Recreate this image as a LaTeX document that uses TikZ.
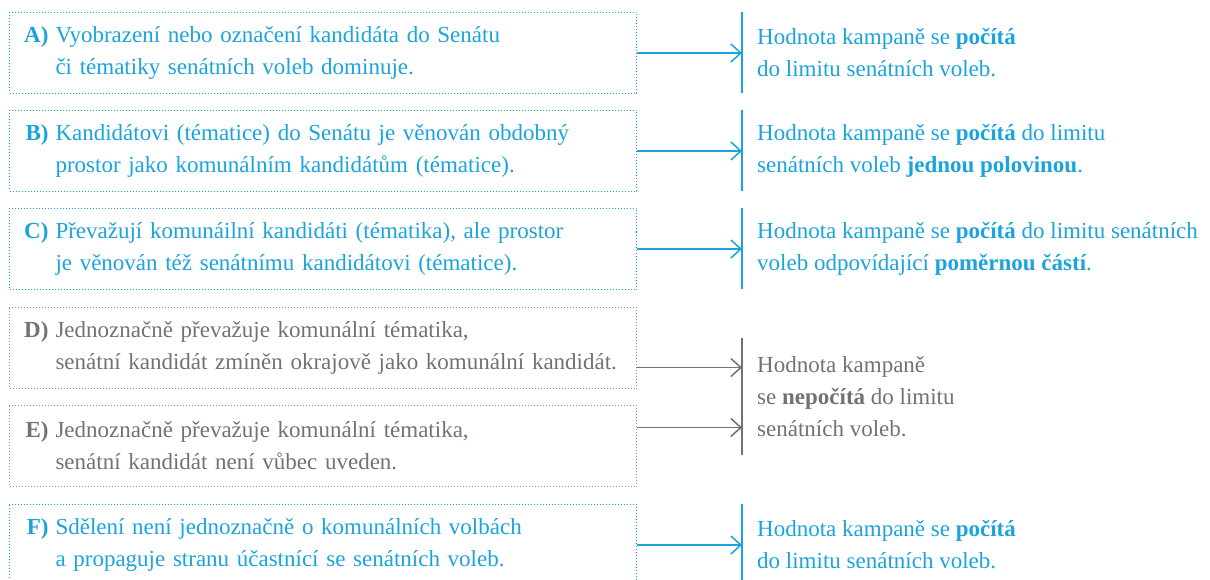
\documentclass[tikz,border=0pt]{standalone}
\usepackage{fontspec}
\setmainfont{Liberation Serif}
\usetikzlibrary{arrows.meta,positioning}

\definecolor{kblue}{HTML}{1BA3DC}
\definecolor{kgray}{HTML}{6E7377}
\definecolor{kdot}{HTML}{8C9093}

\begin{document}
\begin{tikzpicture}[
    x=1pt, y=-1pt,
    >={Straight Barb[length=10pt,width=18pt]},
    optbox/.style={draw=#1, text=#1, line width=1pt, dash pattern=on 1pt off 2pt,
        minimum width=627pt, minimum height=81pt, text width=535pt, inner xsep=46pt,
        align=left, anchor=north west, font=\fontsize{23}{32.3}\selectfont},
    result/.style={text=#1, inner xsep=15pt, anchor=west, align=left,
        font=\fontsize{23}{32.3}\selectfont},
    bar/.style={draw=#1, line width=2pt},
    arr/.style={->, draw=#1, line width=1.5pt}
]

    % --- 1. Okraje obrazku ---
    \useasboundingbox (0,0) rectangle (1210,580);
    \clip (0,0) rectangle (1210,580);

    % --- 2. Moznosti A) az F) (teckovane ramecky) ---
    \node[optbox=kblue] (boxA) at (9,12)
        {\llap{\textbf{A)}\hspace{7pt}}Vyobrazení nebo označení kandidáta do Senátu\\či tématiky senátních voleb dominuje.};
    \node[optbox=kblue] (boxB) at (9,110)
        {\llap{\textbf{B)}\hspace{7pt}}Kandidátovi (tématice) do Senátu je věnován obdobný\\prostor jako komunálním kandidátům (tématice).};
    \node[optbox=kblue] (boxC) at (9,208)
        {\llap{\textbf{C)}\hspace{7pt}}Převažují komunáilní kandidáti (tématika), ale prostor\\je věnován též senátnímu kandidátovi (tématice).};
    \node[optbox=kdot, text=kgray] (boxD) at (9,307)
        {\llap{\textbf{D)}\hspace{7pt}}Jednoznačně převažuje komunální tématika,\\\mbox{senátní kandidát zmíněn okrajově jako komunální kandidát.}};
    \node[optbox=kdot, text=kgray] (boxE) at (9,405)
        {\llap{\textbf{E)}\hspace{7pt}}Jednoznačně převažuje komunální tématika,\\senátní kandidát není vůbec uveden.};
    \node[optbox=kblue] (boxF) at (9,504)
        {\llap{\textbf{F)}\hspace{7pt}}Sdělení není jednoznačně o komunálních volbách\\a propaguje stranu účastnící se senátních voleb.};

    % --- 3. Vysledky (vpravo od svisle cary) ---
    \node[result=kblue, minimum height=81pt] (resA) at (742,52.5)
        {Hodnota kampaně se \textbf{počítá}\\do limitu senátních voleb.};
    \node[result=kblue, minimum height=81pt] (resB) at (742,150.5)
        {Hodnota kampaně se \textbf{počítá} do limitu\\senátních voleb \textbf{jednou polovinou}.};
    \node[result=kblue, minimum height=81pt] (resC) at (742,248.5)
        {Hodnota kampaně se \textbf{počítá} do limitu senátních\\voleb odpovídající \textbf{poměrnou částí}.};
    \node[result=kgray, minimum height=117pt] (resDE) at (742,396.5)
        {Hodnota kampaně\\se \textbf{nepočítá} do limitu\\senátních voleb.};
    \node[result=kblue, minimum height=81pt] (resF) at (742,544.5)
        {Hodnota kampaně se \textbf{počítá}\\do limitu senátních voleb.};

    % svisle cary
    \draw[bar=kblue] (resA.north west) -- (resA.south west);
    \draw[bar=kblue] (resB.north west) -- (resB.south west);
    \draw[bar=kblue] (resC.north west) -- (resC.south west);
    \draw[bar=kgray] (resDE.north west) -- (resDE.south west);
    \draw[bar=kblue] (resF.north west) -- (resF.south west);

    % --- 4. Sipky ---
    \draw[arr=kblue] (boxA.east) -- (boxA.east -| resA.west);
    \draw[arr=kblue] (boxB.east) -- (boxB.east -| resB.west);
    \draw[arr=kblue] (boxC.east) -- (boxC.east -| resC.west);
    \draw[arr=kgray] ([yshift=-19.5pt]boxD.east) -- ([yshift=-19.5pt]boxD.east -| resDE.west);
    \draw[arr=kgray] ([yshift=18.5pt]boxE.east) -- ([yshift=18.5pt]boxE.east -| resDE.west);
    \draw[arr=kblue] (boxF.east) -- (boxF.east -| resF.west);

\end{tikzpicture}
\end{document}
